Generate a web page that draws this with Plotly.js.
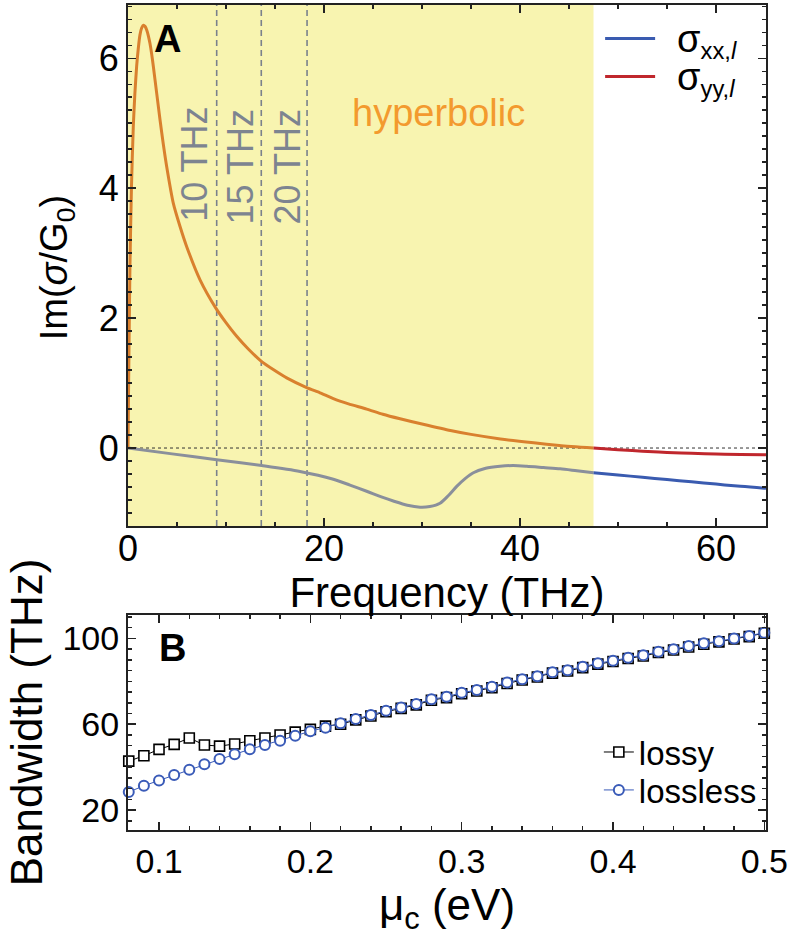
<!DOCTYPE html>
<html>
<head>
<meta charset="utf-8">
<script src="https://cdn.plot.ly/plotly-3.0.1.min.js"></script>
<style>html,body{margin:0;padding:0;background:#fff;}#chart{width:792px;height:937px;}</style>
</head>
<body>
<div id="chart"></div>
<script>
// ---------- Panel A data (frequency in THz, Im(sigma/G0)) ----------
// sigma_yy inside the hyperbolic band (orange part)
const freqYYHyp = [0, 0.05, 0.1, 0.2, 0.35, 0.54, 0.7, 0.88, 1.05, 1.22, 1.4, 1.57, 1.75, 1.9, 2.07, 2.24, 2.42, 2.59, 2.93, 3.27, 3.6, 3.95, 4.62, 5.31, 5.99, 7.35, 8.98, 10.0, 11.09, 12.3, 13.64, 14.9, 16.19, 18.23, 19.59, 20.95, 22.5, 24.35, 26.0, 27.76, 30.0, 32.9, 35.0, 38.0, 41.4, 44.0, 47.5];
const sigmaYYHyp = [0, 0.8, 1.5, 2.8, 4.0, 4.95, 5.45, 5.87, 6.15, 6.36, 6.47, 6.51, 6.49, 6.44, 6.35, 6.23, 6.06, 5.87, 5.46, 5.05, 4.68, 4.33, 3.77, 3.41, 3.10, 2.59, 2.15, 1.93, 1.72, 1.52, 1.33, 1.20, 1.08, 0.93, 0.85, 0.76, 0.68, 0.60, 0.52, 0.45, 0.37, 0.27, 0.21, 0.14, 0.08, 0.04, 0.0];
// sigma_xx inside the hyperbolic band (grey part)
const freqXXHyp = [0, 4.5, 9.05, 13.64, 17.55, 20.95, 22.65, 24.35, 26.0, 27.07, 28.5, 29.8, 30.8, 31.84, 32.7, 33.54, 34.4, 35.24, 36.5, 37.96, 39.3, 40.68, 42.4, 44.1, 45.8, 47.5];
const sigmaXXHyp = [0, -0.09, -0.18, -0.27, -0.36, -0.48, -0.57, -0.665, -0.76, -0.815, -0.88, -0.91, -0.90, -0.85, -0.73, -0.59, -0.47, -0.38, -0.31, -0.28, -0.27, -0.28, -0.30, -0.32, -0.35, -0.38];
// outside the hyperbolic band
const freqOut = [47.5, 50, 52.5, 55, 57.5, 60, 62.5, 65.1];
const sigmaXXOut = [-0.38, -0.415, -0.45, -0.485, -0.52, -0.555, -0.59, -0.62];
const sigmaYYOut = [0.0, -0.025, -0.048, -0.068, -0.082, -0.092, -0.099, -0.104];
// band edge and marked frequencies
const hyperbolicBand = [0, 47.5];
const markFreqs = [9.05, 13.6, 18.27];
const markLabels = ['10 THz', '15 THz', '20 THz'];
const freqTicks = [0, 20, 40, 60];
const sigmaTicks = [0, 2, 4, 6];

// ---------- Panel B data (chemical potential in eV, bandwidth in THz) ----------
const muC = [0.08, 0.09, 0.10, 0.11, 0.12, 0.13, 0.14, 0.15, 0.16, 0.17, 0.18, 0.19, 0.20, 0.21,
             0.22, 0.23, 0.24, 0.25, 0.26, 0.27, 0.28, 0.29, 0.30, 0.31, 0.32, 0.33, 0.34, 0.35,
             0.36, 0.37, 0.38, 0.39, 0.40, 0.41, 0.42, 0.43, 0.44, 0.45, 0.46, 0.47, 0.48, 0.49, 0.50];
const bwLossy = [42.8, 45.3, 48.3, 50.6, 53.6, 50.3, 49.8, 50.8, 52.3, 53.6, 55.0, 56.3, 57.6, 59.1,
                 60.0, 62.0, 63.8, 65.8, 67.4, 69.0, 71.2, 72.4, 74.2, 75.5, 77.0, 79.0, 80.6, 82.0,
                 83.8, 84.8, 86.4, 88.0, 89.2, 90.6, 91.8, 93.4, 94.6, 96.0, 97.3, 98.4, 99.7, 100.8, 102.4];
const bwLossless = [28.4, 31.3, 33.8, 36.3, 38.8, 41.3, 43.8, 46.0, 48.3, 50.3, 52.3, 54.6, 56.7, 58.4,
                    60.4, 62.4, 64.3, 66.3, 67.8, 69.4, 71.6, 72.8, 74.7, 75.9, 77.5, 79.5, 81.0, 82.4,
                    84.2, 85.2, 86.8, 88.4, 89.6, 91.0, 92.2, 93.8, 95.0, 96.4, 97.7, 98.7, 100.0, 101.1, 102.6];
const muTicks = [0.1, 0.2, 0.3, 0.4, 0.5];
const muTickText = ['0.1', '0.2', '0.3', '0.4', '0.5'];
const bwTicks = [20, 60, 100];

// ---------- styles ----------
const FONT = 'Liberation Sans, Arial, Helvetica, sans-serif';
const ORANGE = '#d9802e', GREY = '#8a8f9b', BLUE = '#3a5bb0', RED = '#c0272d';
const LB = '#3a5bb8';
const SIG = '<span style="font-size:38px">σ</span>';

const traces = [
  {x: freqXXHyp, y: sigmaXXHyp, xaxis: 'x', yaxis: 'y', mode: 'lines', line: {color: GREY, width: 3, shape: 'spline', smoothing: 0.8}, showlegend: false, hoverinfo: 'skip'},
  {x: freqYYHyp, y: sigmaYYHyp, xaxis: 'x', yaxis: 'y', mode: 'lines', line: {color: ORANGE, width: 3, shape: 'spline', smoothing: 0.6}, showlegend: false, hoverinfo: 'skip'},
  {x: freqOut, y: sigmaXXOut, xaxis: 'x', yaxis: 'y', mode: 'lines', name: '\u2002' + SIG + '<sub>xx,<i>l</i></sub>', line: {color: BLUE, width: 3, shape: 'spline'}, legend: 'legend'},
  {x: freqOut, y: sigmaYYOut, xaxis: 'x', yaxis: 'y', mode: 'lines', name: '\u2002' + SIG + '<sub>yy,<i>l</i></sub>', line: {color: RED, width: 3, shape: 'spline'}, legend: 'legend3'},
  {x: muC, y: bwLossy, xaxis: 'x2', yaxis: 'y2', mode: 'lines+markers', name: 'lossy', cliponaxis: false,
   line: {color: 'black', width: 1}, marker: {symbol: 'square', size: 10, color: 'white', line: {color: 'black', width: 1.6}}, legend: 'legend2'},
  {x: muC, y: bwLossless, xaxis: 'x2', yaxis: 'y2', mode: 'lines+markers', name: 'lossless', cliponaxis: false,
   line: {color: LB, width: 1}, marker: {symbol: 'circle', size: 10, color: 'white', line: {color: LB, width: 2}}, legend: 'legend4'}
];

const shapes = [
  {type: 'rect', xref: 'x', yref: 'y domain', x0: hyperbolicBand[0], x1: hyperbolicBand[1], y0: 0, y1: 1,
   fillcolor: '#f8f4b0', line: {width: 0}, layer: 'below'},
  {type: 'line', xref: 'x domain', yref: 'y', x0: 0, x1: 1, y0: 0, y1: 0, line: {color: '#333', width: 1, dash: '3px,3px'}, layer: 'below'}
];
markFreqs.forEach(f => shapes.push({type: 'line', xref: 'x', yref: 'y domain', x0: f, x1: f, y0: 0, y1: 1,
  line: {color: '#7a808c', width: 1.6, dash: '6px,4px'}, layer: 'below'}));

const annotations = [
  {text: '<b>A</b>', xref: 'x domain', yref: 'y domain', x: 0.038, y: 0.978, xanchor: 'left', yanchor: 'top', showarrow: false, font: {size: 38, color: 'black', family: FONT}},
  {text: '<b>B</b>', xref: 'x2 domain', yref: 'y2 domain', x: 0.045, y: 0.955, xanchor: 'left', yanchor: 'top', showarrow: false, font: {size: 38, color: 'black', family: FONT}},
  {text: 'hyperbolic', xref: 'x', yref: 'y', x: 31.7, y: 5.15, xanchor: 'center', yanchor: 'middle', showarrow: false, font: {size: 38, color: '#f39a2e', family: FONT}},
  // y-axis title of panel A
  {text: 'Im(<i>σ</i>/G<sub>0</sub>)', xref: 'paper', yref: 'y domain', x: -0.111, y: 0.495, textangle: -90,
   xanchor: 'center', yanchor: 'middle', showarrow: false, font: {size: 38, color: 'black', family: FONT}}
];
const labelPos = [[6.84, 4.36], [11.5, 4.33], [16.3, 4.33]];
markLabels.forEach((t, i) => annotations.push({text: t, xref: 'x', yref: 'y', x: labelPos[i][0], y: labelPos[i][1], textangle: -90,
  xanchor: 'center', yanchor: 'middle', showarrow: false, font: {size: 36, color: '#7d8490', family: FONT}}));

const axBase = {showgrid: false, zeroline: false, showline: true, linecolor: '#222', linewidth: 2, mirror: 'ticks',
  ticks: 'inside', ticklen: 8, tickwidth: 1.5, tickcolor: '#222'};

const legBase = {xanchor: 'left', yanchor: 'middle', bgcolor: 'rgba(0,0,0,0)', tracegroupgap: 0};

const layout = {
  width: 792, height: 937,
  margin: {l: 128, r: 26, t: 5, b: 107},
  paper_bgcolor: 'white', plot_bgcolor: 'white',
  font: {family: FONT, color: 'black'},
  xaxis: Object.assign({}, axBase, {domain: [0, 1], anchor: 'y', range: [0, 65.1], tickmode: 'array', tickvals: freqTicks,
    tickfont: {size: 36}, ticklabelstandoff: -10, minor: {dtick: 5, tick0: 0, ticks: 'inside', ticklen: 4, tickcolor: '#222'},
    title: {text: 'Frequency (THz)', font: {size: 42}, standoff: 0}}),
  yaxis: Object.assign({}, axBase, {domain: [0.3685, 1], anchor: 'x', range: [-1.2, 6.82], tickmode: 'array', tickvals: sigmaTicks,
    tickfont: {size: 36}, minor: {dtick: 0.2, tick0: 0, ticks: 'inside', ticklen: 4, tickcolor: '#222'}}),
  xaxis2: Object.assign({}, axBase, {domain: [0, 1], anchor: 'y2', range: [0.0795, 0.5011], tickmode: 'array', tickvals: muTicks, ticktext: muTickText,
    tickfont: {size: 34}, minor: {dtick: 0.02, tick0: 0, ticks: 'inside', ticklen: 4, tickcolor: '#222'},
    title: {text: 'μ<sub>c</sub> (eV)', font: {size: 44}, standoff: 4}}),
  yaxis2: Object.assign({}, axBase, {domain: [0, 0.2606], anchor: 'x2', range: [10.7, 110.9], tickmode: 'array', tickvals: bwTicks,
    tickfont: {size: 34}, minor: {dtick: 5, tick0: 0, ticks: 'inside', ticklen: 4, tickcolor: '#222'},
    title: {text: 'Bandwidth (THz)', font: {size: 44}, standoff: 6}}),
  legend: Object.assign({}, legBase, {x: 0.74, y: 0.9588, itemwidth: 50, font: {size: 34, family: FONT, color: 'black'}}),
  legend3: Object.assign({}, legBase, {x: 0.74, y: 0.9127, itemwidth: 50, font: {size: 34, family: FONT, color: 'black'}}),
  legend2: Object.assign({}, legBase, {x: 0.738, y: 0.0945, font: {size: 33, family: FONT, color: 'black'}}),
  legend4: Object.assign({}, legBase, {x: 0.738, y: 0.0485, font: {size: 33, family: FONT, color: 'black'}}),
  shapes: shapes,
  annotations: annotations,
  showlegend: true
};

Plotly.newPlot('chart', traces, layout, {staticPlot: true, displayModeBar: false});
</script>
</body>
</html>
